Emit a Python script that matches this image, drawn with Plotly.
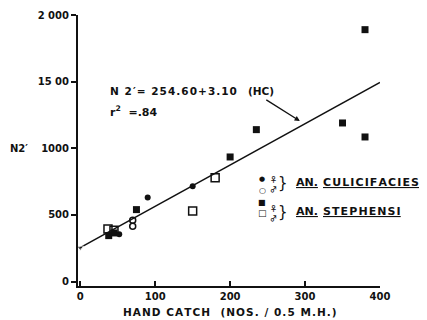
import plotly.graph_objects as go

# ---- data ----
cul_female_x = [52, 90, 150]
cul_female_y = [355, 630, 715]
cul_male_x = [70, 70]
cul_male_y = [460, 415]
ste_female_x = [38, 45, 75, 200, 235, 350, 380, 380]
ste_female_y = [345, 365, 540, 935, 1140, 1190, 1085, 1890]
ste_male_x = [37, 45, 150, 180]
ste_male_y = [395, 385, 530, 780]

intercept = 254.60
slope = 3.10
fit_x = [0, 400]
fit_y = [intercept + slope * v for v in fit_x]

x_ticks = [0, 100, 200, 300, 400]
y_ticks = [0, 500, 1000, 1500, 2000]
y_ticktext = ["0", "500", "1000", "15 00", "2 000"]

FONT = "DejaVu Sans"
SYM_FONT = "Noto Sans CJK JP"
INK = "#111111"

def spaced(s, sep="\u200a"):
    return sep.join(s)

fig = go.Figure()
fig.add_trace(go.Scatter(x=fit_x, y=fit_y, mode="lines+markers",
                         line=dict(color=INK, width=1.5),
                         marker=dict(symbol="triangle-down", size=[6, 0], color=INK)))
fig.add_trace(go.Scatter(x=ste_male_x, y=ste_male_y, mode="markers",
                         marker=dict(symbol="square-open", size=8, color=INK, line=dict(width=1.5))))
fig.add_trace(go.Scatter(x=ste_female_x, y=ste_female_y, mode="markers",
                         marker=dict(symbol="square", size=7, color=INK)))
fig.add_trace(go.Scatter(x=cul_male_x, y=cul_male_y, mode="markers",
                         marker=dict(symbol="circle-open", size=6, color=INK, line=dict(width=1.5))))
fig.add_trace(go.Scatter(x=cul_female_x, y=cul_female_y, mode="markers",
                         marker=dict(symbol="circle", size=6, color=INK)))

fig.update_xaxes(range=[-3, 400], tickvals=x_ticks, ticks="inside", ticklen=5, tickwidth=1.5,
                 tickcolor=INK, showline=True, linecolor=INK, linewidth=2, showgrid=False,
                 zeroline=False, automargin=False,
                 tickfont=dict(family=FONT, size=10, color=INK, weight="bold"))
fig.update_yaxes(range=[-33, 2000], tickvals=y_ticks, ticktext=y_ticktext, ticks="outside",
                 ticklen=5, tickwidth=1.5, tickcolor=INK, showline=True, linecolor=INK,
                 linewidth=2, showgrid=False, zeroline=False, automargin=False,
                 tickfont=dict(family=FONT, size=10, color=INK, weight="bold"))

ann = []
def txt(x, y, s, size=10, xanchor="left", under=False, weight="bold", family=FONT):
    f = dict(family=family, size=size, color=INK, weight=weight)
    if under:
        f["lineposition"] = "under"
    ann.append(dict(x=x, y=y, xref="paper", yref="paper", text=s, showarrow=False,
                    xanchor=xanchor, yanchor="middle", font=f))

def px(xp):
    return (xp - 78) / 302

def py(yp):
    return (286 - yp) / 271

# axis titles
txt(px(8), py(148), "N2′", size=10)
txt(px(230), py(312), spaced("HAND CATCH  (NOS. / 0.5 M.H.)"), size=10.5, xanchor="center")
# equation
txt(px(108), py(91), spaced("N 2′= 254.60+3.10") + "   (HC)", size=10.5)
txt(px(108), py(111), "r<sup>2</sup>  =.84", size=11)
# arrow
ann.append(dict(x=293, y=1205, xref="x", yref="y", ax=-35, ay=-22, text="",
                showarrow=True, arrowhead=2, arrowsize=0.8, arrowwidth=1.3, arrowcolor=INK))
# legend
txt(px(262), py(179), "●", size=7, xanchor="center", weight="normal")
txt(px(262), py(190), "○", size=8, xanchor="center")
txt(px(262), py(203), "■", size=8, xanchor="center", weight="normal")
txt(px(262), py(213), "□", size=9, xanchor="center")
for yy in (179, 208):
    txt(px(273), py(yy), "\u2640", size=7, xanchor="center", weight="bold", family=SYM_FONT)
for yy in (189, 218):
    txt(px(273), py(yy), "\u2642", size=7, xanchor="center", weight="bold", family=SYM_FONT)
txt(px(283), py(183), "}", size=15, xanchor="center", weight="normal")
txt(px(283), py(212), "}", size=15, xanchor="center", weight="normal")
txt(px(294), py(182), "AN.", size=11, under=True)
txt(px(321), py(182), spaced("CULICIFACIES"), size=11, under=True)
txt(px(294), py(212), "AN.", size=11, under=True)
txt(px(321), py(212), spaced("STEPHENSI"), size=11, under=True)

# page body has an 8px margin, so the figure is offset by (8, 8) in the window
fig.update_layout(width=427, height=320, margin=dict(l=70, r=55, t=7, b=42),
                  plot_bgcolor="white", paper_bgcolor="white", showlegend=False,
                  annotations=ann, font=dict(family=FONT, size=10, color=INK))
fig.write_html("out.html")
